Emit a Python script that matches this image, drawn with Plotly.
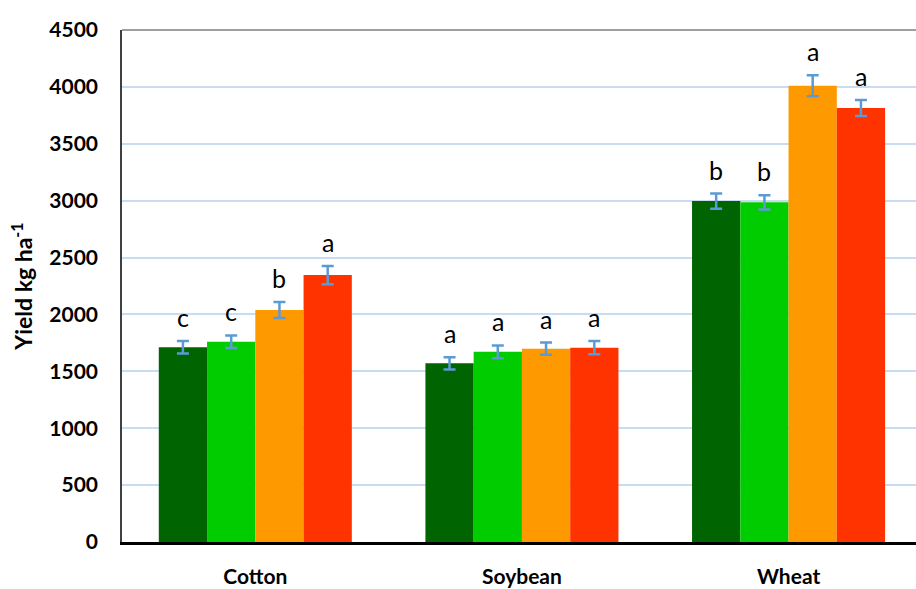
import plotly.graph_objects as go

categories = ["Cotton", "Soybean", "Wheat"]
series_names = ["T1", "T2", "T3", "T4"]
colors = ["#006400", "#00cc00", "#ff9900", "#ff3300"]

values = [
    [1711, 1570, 2996],   # T1 dark green
    [1760, 1672, 2985],   # T2 green
    [2039, 1699, 4010],   # T3 orange
    [2346, 1708, 3814],   # T4 red
]
errors = [
    [55, 54, 66],
    [55, 56, 62],
    [70, 54, 92],
    [80, 58, 70],
]
letters = [
    ["c", "a", "b"],
    ["c", "a", "b"],
    ["b", "a", "a"],
    ["a", "a", "a"],
]

y_ticks = [0, 500, 1000, 1500, 2000, 2500, 3000, 3500, 4000, 4500]

FONT = "Lato, 'Open Sans', sans-serif"
bargap = 0.276
n = len(series_names)
bw = (1 - bargap) / n

x_idx = list(range(len(categories)))

fig = go.Figure()
for j in range(n):
    fig.add_trace(go.Bar(
        x=x_idx, y=values[j], name=series_names[j],
        marker=dict(color=colors[j], line=dict(width=0)),
        error_y=dict(type="data", array=errors[j], color="#5b9bd5",
                     thickness=2.5, width=6),
        showlegend=False,
    ))

annotations = []
for j in range(n):
    for i in x_idx:
        annotations.append(dict(
            x=i + (j - (n - 1) / 2) * bw, y=values[j][i] + errors[j][i],
            xref="x", yref="y", text=letters[j][i], showarrow=False,
            yanchor="bottom", yshift=7,
            font=dict(family=FONT, size=25, color="#000000"),
        ))

fig.update_layout(
    width=916, height=589,
    margin=dict(l=122, r=0, t=30, b=47, autoexpand=False),
    paper_bgcolor="white", plot_bgcolor="white",
    barmode="group", bargap=bargap, bargroupgap=0,
    annotations=annotations,
    shapes=[dict(type="line", xref="paper", yref="paper", x0=0, x1=1, y0=1, y1=1,
                 line=dict(color="#7f7f7f", width=1.5))],
    xaxis=dict(
        range=[-0.5, 2.478], tickmode="array", tickvals=x_idx, ticktext=categories,
        showgrid=False, zeroline=False, showline=True, linecolor="#000000", linewidth=2.5,
        ticks="", ticklabelstandoff=14, automargin=False,
        tickfont=dict(family=FONT, size=21, color="#000000", weight="bold"),
    ),
    yaxis=dict(
        range=[0, 4500], tickmode="array", tickvals=y_ticks,
        showgrid=True, gridcolor="#c9dcf1", gridwidth=1.5,
        zeroline=False, showline=True, linecolor="#404040", linewidth=1.5,
        ticks="", ticklabelstandoff=18, automargin=False,
        tickfont=dict(family=FONT, size=21, color="#000000", weight="bold"),
        title=dict(text="Yield kg ha<sup>-1</sup>", standoff=10,
                   font=dict(family=FONT, size=23, color="#000000", weight="bold")),
    ),
)

fig.write_html("out.html", config={"displayModeBar": False},
               post_script="document.body.style.margin='0';")
